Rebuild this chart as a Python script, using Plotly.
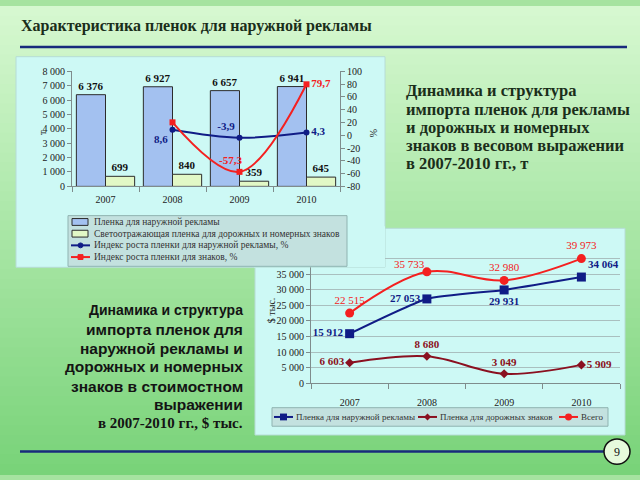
import plotly.graph_objects as go

W, H = 640, 480

# ---------------- data ----------------
years = ["2007", "2008", "2009", "2010"]

# chart 1: tonnes and growth index, %
film_ad_t = [6376, 6927, 6657, 6941]
film_signs_t = [699, 840, 359, 645]
idx_ad = [None, 8.6, -3.9, 4.3]
idx_signs = [None, 20.2, -57.3, 79.7]
series_t = [
    "Пленка для наружной рекламы",
    "Светоотражающая пленка для дорожных и номерных знаков",
    "Индекс роста пленки для наружной рекламы, %",
    "Индекс роста пленки для знаков, %",
]
ticks_t = [0, 1000, 2000, 3000, 4000, 5000, 6000, 7000, 8000]
ticks_pct = [-80, -60, -40, -20, 0, 20, 40, 60, 80, 100]

# chart 2: $ thousand
film_ad_usd = [15912, 27053, 29931, 34064]
film_signs_usd = [6603, 8680, 3049, 5909]
total_usd = [22515, 35733, 32980, 39973]
series_usd = ["Пленка для наружной рекламы", "Пленка для дорожных знаков", "Всего"]
ticks_usd = [0, 5000, 10000, 15000, 20000, 25000, 30000, 35000, 40000, 45000]
ticks_usd_labeled_max = 35000

title_text = "Характеристика пленок для наружной рекламы"
right_text = [
    "Динамика и структура",
    "импорта пленок для рекламы",
    "и дорожных и номерных",
    "знаков в весовом выражении",
    "в 2007-2010 гг., т",
]
left_text = [
    "Динамика и структура",
    "импорта пленок для",
    "наружной рекламы и",
    "дорожных и номерных",
    "знаков в стоимостном",
    "выражении",
    "в 2007-2010 гг., $ тыс.",
]
page_no = "9"

# ---------------- helpers ----------------
def px(x):
    return x / W

def py(y):
    return 1 - y / H

def fmt_int(v):
    return f"{v:,}".replace(",", " ")

def fmt_dec(v):
    return "" if v is None else f"{v:.1f}".replace(".", ",")

SERIF = "Liberation Serif"
SANS = "Liberation Sans"
PANEL = "#cdf9f5"
BAR_BLUE = "#a3c1f0"
BAR_GREEN = "#e2f8c6"
NAVY = "#101c86"
RED = "#f42020"
DARKRED = "#8a1020"
LEG_BG = "#c3e1df"
LEG_BORDER = "#8fb3b1"
AX = "#7f8c8c"

# labels drawn as annotations (index -> placed separately)
red_idx_ann = 2      # "-57,3" label in chart 1
total_ann = 1        # "35 733" label in chart 2

fig = go.Figure()

# ---------------- chart 1 ----------------
fig.add_trace(go.Bar(
    x=years, y=film_ad_t, name=series_t[0], xaxis="x", yaxis="y",
    marker=dict(color=BAR_BLUE, line=dict(color="#2c2c2c", width=1)),
    text=[fmt_int(v) for v in film_ad_t], textposition="outside",
    textfont=dict(family=SERIF, size=11, color="#111", weight="bold"),
    constraintext="none", cliponaxis=False, showlegend=False,
))
fig.add_trace(go.Bar(
    x=years, y=film_signs_t, name=series_t[1], xaxis="x", yaxis="y",
    marker=dict(color=BAR_GREEN, line=dict(color="#2c2c2c", width=1)),
    text=[fmt_int(v) for v in film_signs_t], textposition="outside",
    textfont=dict(family=SERIF, size=11, color="#111", weight="bold"),
    constraintext="none", cliponaxis=False, showlegend=False,
))
fig.add_trace(go.Scatter(
    x=years, y=idx_ad, name=series_t[2], xaxis="x", yaxis="y2",
    mode="lines+markers+text", line=dict(color=NAVY, width=2, shape="spline"),
    marker=dict(symbol="circle", size=6, color=NAVY),
    text=[fmt_dec(v) for v in idx_ad],
    textposition=["middle left", "bottom left", "top left", "middle right"],
    textfont=dict(family=SERIF, size=11, color=NAVY, weight="bold"),
    cliponaxis=False, showlegend=False,
))
fig.add_trace(go.Scatter(
    x=years, y=idx_signs, name=series_t[3], xaxis="x", yaxis="y2",
    mode="lines+markers+text", line=dict(color=RED, width=2, shape="spline"),
    marker=dict(symbol="square", size=6, color=RED),
    text=["" if i == red_idx_ann else fmt_dec(v) for i, v in enumerate(idx_signs)],
    textposition=["middle left", "top left", "top left", "middle right"],
    textfont=dict(family=SERIF, size=11, color=RED, weight="bold"),
    cliponaxis=False, showlegend=False,
))

# ---------------- chart 2 ----------------
fig.add_trace(go.Scatter(
    x=years, y=film_ad_usd, name=series_usd[0], xaxis="x2", yaxis="y3",
    mode="lines+markers+text", line=dict(color=NAVY, width=2, shape="spline", smoothing=0.5),
    marker=dict(symbol="square", size=9, color=NAVY),
    text=[fmt_int(v) for v in film_ad_usd],
    textposition=["middle left", "middle left", "bottom center", "top right"],
    textfont=dict(family=SERIF, size=11, color=NAVY, weight="bold"),
    cliponaxis=False, showlegend=False,
))
fig.add_trace(go.Scatter(
    x=years, y=film_signs_usd, name=series_usd[1], xaxis="x2", yaxis="y3",
    mode="lines+markers+text", line=dict(color=DARKRED, width=2, shape="spline"),
    marker=dict(symbol="diamond", size=7, color=DARKRED),
    text=[fmt_int(v) for v in film_signs_usd],
    textposition=["middle left", "top center", "top center", "middle right"],
    textfont=dict(family=SERIF, size=11, color=DARKRED, weight="bold"),
    cliponaxis=False, showlegend=False,
))
fig.add_trace(go.Scatter(
    x=years, y=total_usd, name=series_usd[2], xaxis="x2", yaxis="y3",
    mode="lines+markers+text", line=dict(color=RED, width=2, shape="spline"),
    marker=dict(symbol="circle", size=9, color=RED),
    text=["" if i == total_ann else fmt_int(v) for i, v in enumerate(total_usd)],
    textposition=["top center", "top left", "top center", "top center"],
    textfont=dict(family=SERIF, size=11, color=RED),
    cliponaxis=False, showlegend=False,
))

# ---------------- shapes ----------------
shapes = []
# background gradient
top_c = (214, 248, 208)
bot_c = (121, 211, 121)
n = 48
band = H / n
for i in range(n):
    t = i / (n - 1)
    c = tuple(round(a + (b - a) * t) for a, b in zip(top_c, bot_c))
    shapes.append(dict(type="rect", xref="paper", yref="paper", layer="below",
                       x0=0, x1=1, y0=py(i * band + band + 1), y1=py(i * band),
                       fillcolor="rgb(%d,%d,%d)" % c, line=dict(width=0)))
# panels
shapes.append(dict(type="rect", xref="paper", yref="paper", layer="below",
                   x0=px(255), x1=px(625), y0=py(440), y1=py(228),
                   fillcolor=PANEL, line=dict(color="#b6dcd6", width=1)))
shapes.append(dict(type="rect", xref="paper", yref="paper", layer="below",
                   x0=px(16), x1=px(385), y0=py(268), y1=py(52),
                   fillcolor=PANEL, line=dict(color="#b6dcd6", width=1)))
# panel 1 overlapping panel 2 (hides the upper-left of chart 2)
shapes.append(dict(type="rect", xref="paper", yref="paper", layer="above",
                   x0=px(254), x1=px(385), y0=py(268), y1=py(226),
                   fillcolor=PANEL, line=dict(width=0)))
# top / bottom rules
shapes.append(dict(type="line", xref="paper", yref="paper", layer="above",
                   x0=px(20), x1=px(627), y0=py(42), y1=py(42),
                   line=dict(color="#182a7c", width=2.5)))
shapes.append(dict(type="line", xref="paper", yref="paper", layer="above",
                   x0=px(20), x1=px(604), y0=py(457), y1=py(457),
                   line=dict(color="#182a7c", width=2.5)))
shapes.append(dict(type="circle", xref="paper", yref="paper", layer="above",
                   x0=px(604), x1=px(630), y0=py(470), y1=py(444),
                   fillcolor="#e6fadc", line=dict(color="#111", width=1.5)))

# legend 1 (manual)
shapes.append(dict(type="rect", xref="paper", yref="paper", layer="above",
                   x0=px(68), x1=px(347), y0=py(267), y1=py(215),
                   fillcolor=LEG_BG, line=dict(color=LEG_BORDER, width=1)))
rows1 = [221.5, 233.5, 245.5, 257.5]
for yy, col in zip(rows1[:2], [BAR_BLUE, BAR_GREEN]):
    shapes.append(dict(type="rect", xref="paper", yref="paper", layer="above",
                       x0=px(72), x1=px(88), y0=py(yy + 3.5), y1=py(yy - 3.5),
                       fillcolor=col, line=dict(color="#2c2c2c", width=1)))
for yy, col in zip(rows1[2:], [NAVY, RED]):
    shapes.append(dict(type="line", xref="paper", yref="paper", layer="above",
                       x0=px(71), x1=px(90), y0=py(yy), y1=py(yy),
                       line=dict(color=col, width=2)))
shapes.append(dict(type="circle", xref="paper", yref="paper", layer="above",
                   x0=px(78), x1=px(83), y0=py(rows1[2] + 2.5), y1=py(rows1[2] - 2.5),
                   fillcolor=NAVY, line=dict(color=NAVY, width=1)))
shapes.append(dict(type="rect", xref="paper", yref="paper", layer="above",
                   x0=px(78), x1=px(83), y0=py(rows1[3] + 2.5), y1=py(rows1[3] - 2.5),
                   fillcolor=RED, line=dict(color=RED, width=1)))

# legend 2 (manual)
shapes.append(dict(type="rect", xref="paper", yref="paper", layer="above",
                   x0=px(272), x1=px(608), y0=py(431), y1=py(412),
                   fillcolor=LEG_BG, line=dict(color=LEG_BORDER, width=1)))
ly2 = 421.5
leg2_x = [274, 418, 559]
leg2_cols = [NAVY, DARKRED, RED]
for x0, col in zip(leg2_x, leg2_cols):
    shapes.append(dict(type="line", xref="paper", yref="paper", layer="above",
                       x0=px(x0), x1=px(x0 + 19), y0=py(ly2), y1=py(ly2),
                       line=dict(color=col, width=2)))
cx = leg2_x[0] + 9.5
shapes.append(dict(type="rect", xref="paper", yref="paper", layer="above",
                   x0=px(cx - 3.5), x1=px(cx + 3.5), y0=py(ly2 + 3.5), y1=py(ly2 - 3.5),
                   fillcolor=NAVY, line=dict(width=0)))
cx = leg2_x[1] + 9.5
shapes.append(dict(type="path", xref="paper", yref="paper", layer="above",
                   path="M %f %f L %f %f L %f %f L %f %f Z" % (
                       px(cx), py(ly2 - 3.5), px(cx + 3.5), py(ly2),
                       px(cx), py(ly2 + 3.5), px(cx - 3.5), py(ly2)),
                   fillcolor=DARKRED, line=dict(width=0)))
cx = leg2_x[2] + 9.5
shapes.append(dict(type="circle", xref="paper", yref="paper", layer="above",
                   x0=px(cx - 3.5), x1=px(cx + 3.5), y0=py(ly2 + 3.5), y1=py(ly2 - 3.5),
                   fillcolor=RED, line=dict(width=0)))

# ---------------- annotations ----------------
ann = []
ann.append(dict(text=title_text, x=px(19), y=py(21), xref="paper", yref="paper",
                xanchor="left", yanchor="middle", showarrow=False,
                font=dict(family=SERIF, size=16, color="#1a2e1a", weight="bold")))
for i, line in enumerate(right_text):
    ann.append(dict(text=line, x=px(404), y=py(87 + i * 18.7), xref="paper", yref="paper",
                    xanchor="left", yanchor="middle", showarrow=False,
                    font=dict(family=SERIF, size=16.5, color="#1a2e1a", weight="bold")))
left_y = [312, 332, 351, 370, 390, 409, 428]
for i, line in enumerate(left_text):
    is_last = i == len(left_text) - 1
    ann.append(dict(text=line, x=px(245), y=py(left_y[i]), xref="paper", yref="paper",
                    xanchor="right", yanchor="middle", showarrow=False,
                    font=dict(family=SERIF if is_last else SANS,
                              size=15 if is_last else (14 if i == 0 else 15.5),
                              color="#141414", weight="bold")))
ann.append(dict(text=page_no, x=px(617), y=py(457), xref="paper", yref="paper",
                xanchor="center", yanchor="middle", showarrow=False,
                font=dict(family=SERIF, size=12, color="#111")))
# data labels placed as annotations (data-referenced; category axis uses index)
ann.append(dict(text=fmt_dec(idx_signs[red_idx_ann]), x=red_idx_ann,
                y=idx_signs[red_idx_ann], xref="x", yref="y2",
                xanchor="right", yanchor="bottom", xshift=4, yshift=4, showarrow=False,
                font=dict(family=SERIF, size=11, color=RED, weight="bold")))
ann.append(dict(text=fmt_int(total_usd[total_ann]), x=total_ann,
                y=total_usd[total_ann], xref="x2", yref="y3",
                xanchor="right", yanchor="bottom", xshift=0, yshift=0, showarrow=False,
                font=dict(family=SERIF, size=11, color=RED)))
# axis titles
ann.append(dict(text="т", x=px(34), y=py(126), xref="paper", yref="paper", textangle=-90,
                showarrow=False, font=dict(family=SERIF, size=11, color="#222")))
ann.append(dict(text="%", x=px(373), y=py(124), xref="paper", yref="paper", textangle=90,
                showarrow=False, font=dict(family=SERIF, size=10, color="#222")))
ann.append(dict(text="$ тыс.", x=px(271), y=py(312), xref="paper", yref="paper", textangle=-90,
                showarrow=False, font=dict(family=SERIF, size=10, color="#222")))
# legend texts
for yy, name in zip(rows1, series_t):
    ann.append(dict(text=name, x=px(92), y=py(yy), xref="paper", yref="paper",
                    xanchor="left", yanchor="middle", showarrow=False,
                    font=dict(family=SERIF, size=9.5, color="#333")))
for x0, name in zip(leg2_x, series_usd):
    ann.append(dict(text=name, x=px(x0 + 20), y=py(ly2), xref="paper", yref="paper",
                    xanchor="left", yanchor="middle", showarrow=False,
                    font=dict(family=SERIF, size=9, color="#333")))

tick_font = dict(family=SERIF, size=10, color="#222")

fig.update_layout(
    width=W, height=H, autosize=False,
    margin=dict(l=0, r=0, t=0, b=0),
    paper_bgcolor="#a6e3a0", plot_bgcolor="rgba(0,0,0,0)",
    barmode="group", bargap=0.13, bargroupgap=0,
    showlegend=False,
    shapes=shapes, annotations=ann,
    xaxis=dict(domain=[px(72), px(340)], anchor="y", type="category",
               range=[-0.5, len(years) - 0.5],
               showline=True, linecolor=AX, linewidth=1, ticks="outside", ticklen=5,
               tickson="boundaries", tickcolor=AX, showgrid=False, zeroline=False,
               tickfont=tick_font, ticklabelstandoff=4, fixedrange=True),
    yaxis=dict(domain=[py(185), py(67)], anchor="x", range=[0, 8000],
               tickvals=ticks_t, ticktext=[fmt_int(v) for v in ticks_t],
               showline=True, linecolor=AX, ticks="outside", ticklen=4, tickcolor=AX,
               showgrid=False, zeroline=False, tickfont=tick_font),
    yaxis2=dict(anchor="x", overlaying="y", side="right", range=[-80, 100],
                tickvals=ticks_pct, ticktext=[str(v) for v in ticks_pct],
                showline=True, linecolor=AX, ticks="outside", ticklen=4, tickcolor=AX,
                showgrid=False, zeroline=False, tickfont=tick_font),
    xaxis2=dict(domain=[px(311), px(620)], anchor="y3", type="category",
                range=[-0.5, len(years) - 0.5],
                showline=True, linecolor=AX, ticks="outside", ticklen=5,
                tickson="boundaries", tickcolor=AX, showgrid=False, zeroline=False,
                tickfont=tick_font, ticklabelstandoff=10),
    yaxis3=dict(domain=[py(387), py(243)], anchor="x2", range=[0, 45000],
                tickvals=ticks_usd,
                ticktext=[fmt_int(v) if v <= ticks_usd_labeled_max else "" for v in ticks_usd],
                showline=True, linecolor=AX, ticks="outside", ticklen=4, tickcolor=AX,
                showgrid=True, gridcolor="#a9bfbf", gridwidth=1, zeroline=False,
                tickfont=tick_font),
)

fig.write_html("out.html")
